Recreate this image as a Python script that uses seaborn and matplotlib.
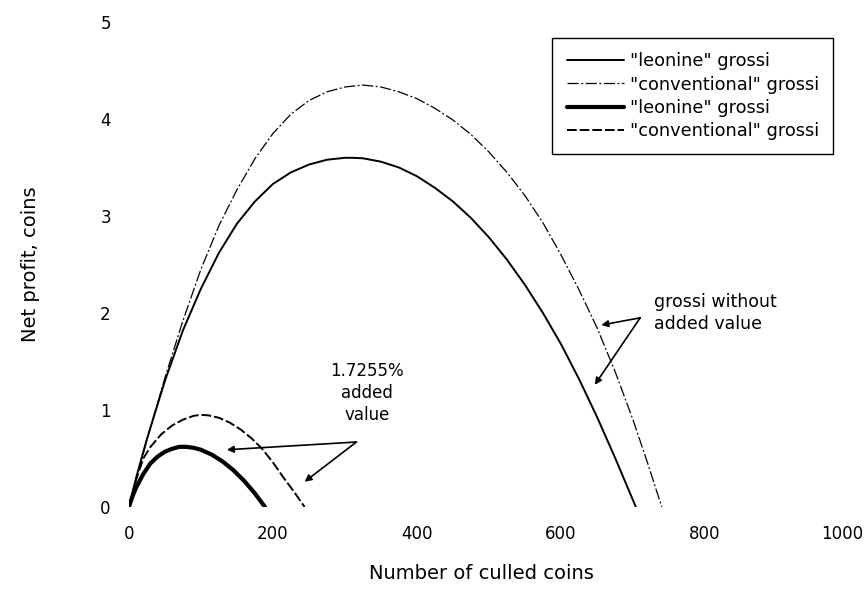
import matplotlib
matplotlib.use("Agg")
import matplotlib.pyplot as plt
import matplotlib.transforms as mtransforms
import seaborn as sns
import pandas as pd

# Net profit against number of culled coins
leonine_x = [0, 10, 25, 50, 75, 100, 125, 150, 175, 200, 225, 250, 275, 300, 310,
             325, 350, 375, 400, 425, 450, 475, 500, 525, 550, 575, 600, 625, 650,
             675, 704]
leonine_y = [0.0, 0.30, 0.70, 1.30, 1.82, 2.25, 2.62, 2.92, 3.15, 3.33, 3.45, 3.53,
             3.58, 3.60, 3.60, 3.595, 3.56, 3.50, 3.41, 3.29, 3.15, 2.98, 2.78, 2.55,
             2.29, 2.00, 1.68, 1.32, 0.93, 0.51, 0.0]

conventional_x = [0, 15, 30, 50, 75, 100, 125, 150, 175, 200, 225, 250, 275, 300,
                  325, 350, 375, 400, 425, 450, 475, 500, 525, 550, 575, 600, 625,
                  650, 675, 700, 720, 740]
conventional_y = [0.0, 0.42, 0.82, 1.33, 1.92, 2.45, 2.90, 3.27, 3.59, 3.85, 4.05,
                  4.19, 4.28, 4.33, 4.35, 4.33, 4.28, 4.21, 4.11, 3.99, 3.84, 3.66,
                  3.45, 3.21, 2.93, 2.60, 2.24, 1.85, 1.40, 0.90, 0.46, 0.0]

leonine_av_x = [0, 5, 10, 20, 30, 40, 50, 60, 70, 80, 90, 100, 115, 130, 145, 160,
                175, 189]
leonine_av_y = [0.0, 0.11, 0.20, 0.34, 0.45, 0.52, 0.57, 0.60, 0.62, 0.62, 0.61,
                0.59, 0.54, 0.47, 0.38, 0.27, 0.14, 0.0]

conventional_av_x = [0, 10, 20, 30, 45, 60, 75, 90, 100, 110, 125, 140, 155, 170,
                     185, 200, 215, 230, 244]
conventional_av_y = [0.0, 0.28, 0.50, 0.62, 0.75, 0.84, 0.90, 0.94, 0.95, 0.945,
                     0.92, 0.87, 0.80, 0.71, 0.60, 0.46, 0.30, 0.15, 0.0]

series_labels = ['"leonine" grossi', '"conventional" grossi',
                 '"leonine" grossi', '"conventional" grossi']

x_ticks = [0, 200, 400, 600, 800, 1000]
y_ticks = [0, 1, 2, 3, 4, 5]

sns.set_style("white")
plt.rcParams["font.family"] = ["DejaVu Sans"]
plt.rcParams["font.size"] = 12
plt.rcParams["text.color"] = "black"
plt.rcParams["axes.labelcolor"] = "black"
plt.rcParams["xtick.color"] = "black"
plt.rcParams["ytick.color"] = "black"

fig = plt.figure(figsize=(8.65, 5.9), dpi=100)
ax = fig.add_axes([0.149, 0.1407, 0.8325, 0.822])

curves = [
    (leonine_x, leonine_y, 1.4, None),
    (conventional_x, conventional_y, 0.9, (9, 2, 1.5, 2)),
    (leonine_av_x, leonine_av_y, 3.0, None),
    (conventional_av_x, conventional_av_y, 1.4, (5, 1.5)),
]
for (xs, ys, lw, dash), lab in zip(curves, series_labels):
    df = pd.DataFrame({"n": xs, "profit": ys})
    sns.lineplot(data=df, x="n", y="profit", ax=ax, color="black", lw=lw,
                 label=lab, legend=False)
    if dash is not None:
        ax.lines[-1].set_dashes(dash)

ax.set_xlim(0, 1000)
ax.set_ylim(0, 5)
ax.set_xticks(x_ticks)
ax.set_yticks(y_ticks)
ax.tick_params(axis="both", length=0, labelsize=12, colors="black")
ax.tick_params(axis="x", pad=13)
ax.tick_params(axis="y", pad=13)
for s in ax.spines.values():
    s.set_visible(False)

# nudge the last x tick label so it stays inside the canvas
last = ax.get_xticklabels()[-1]
last.set_transform(last.get_transform() +
                   mtransforms.ScaledTranslation(-7 / 100, 0, fig.dpi_scale_trans))

ax.set_xlabel("Number of culled coins", fontsize=14, color="black")
ax.set_ylabel("Net profit, coins", fontsize=14, color="black")
ax.xaxis.set_label_coords(0.49, -0.117)
ax.yaxis.set_label_coords(-0.124, 0.5)

leg = ax.legend(loc="upper right", bbox_to_anchor=(0.978, 0.967), fontsize=12.8,
                handlelength=3.2, handletextpad=0.35, borderpad=0.8,
                labelspacing=0.3, borderaxespad=0,
                fancybox=False, framealpha=1, edgecolor="black")
leg.get_frame().set_linewidth(1.0)
for t in leg.get_texts():
    t.set_color("black")

arrow = dict(arrowstyle="-|>", color="black", lw=1.2, mutation_scale=10,
             shrinkA=0, shrinkB=0)

ax.text(331, 1.175, "1.7255%\nadded\nvalue", ha="center", va="center",
        multialignment="center", fontsize=12, linespacing=1.3)
ax.annotate("", xy=(136, 0.59), xytext=(316, 0.67), arrowprops=arrow)
ax.annotate("", xy=(244, 0.26), xytext=(316, 0.67), arrowprops=arrow)

ax.text(729, 2.0, "grossi without\nadded value", ha="left", va="center",
        fontsize=12.5, linespacing=1.3)
ax.annotate("", xy=(656, 1.876), xytext=(710, 1.95), arrowprops=arrow)
ax.annotate("", xy=(647, 1.26), xytext=(710, 1.95), arrowprops=arrow)

fig.savefig("out.png", dpi=100)
